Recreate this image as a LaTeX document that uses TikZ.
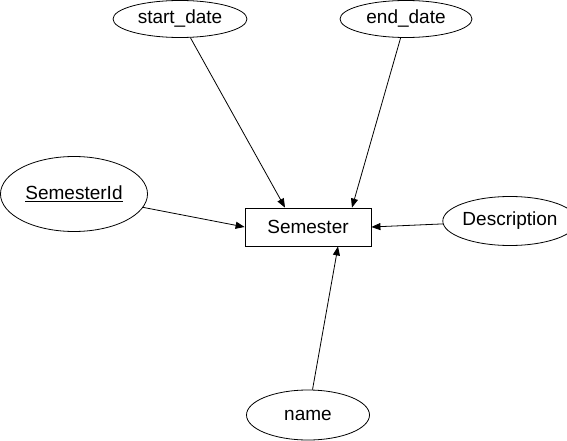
\documentclass[tikz,border=0pt]{standalone}
\usepackage{fontspec}
\setmainfont{Liberation Sans}
\usetikzlibrary{shapes,arrows.meta,positioning,calc,shapes.geometric}

\begin{document}
\begin{tikzpicture}[x=1pt,y=-1pt,line width=0.8pt]
\tikzstyle{entity} = [rectangle, draw, minimum width=126pt, minimum height=38pt, inner sep=0pt, font=\fontsize{19}{22}\selectfont]
\tikzstyle{attr} = [ellipse, draw, inner sep=0pt, font=\fontsize{19}{22}\selectfont]
\tikzstyle{link} = [draw, -{Triangle[length=9pt,width=7pt]}]

\useasboundingbox (0,0) rectangle (567,441);

% Entity in the middle
\node [entity] (semester) at (308,227) {Semester};

% Attributes around it
\node [attr, minimum width=134pt, minimum height=37pt] (startDate) at (180,19) {start\_date};
\node [attr, minimum width=132pt, minimum height=37pt] (endDate) at (406,19) {end\_date};
\node [attr, minimum width=147pt, minimum height=75pt] (semesterId) at (74,194) {\underline{SemesterId}};
\node [attr, minimum width=113pt, minimum height=49pt] (description) at (510,221) {Description};
\node [attr, minimum width=123pt, minimum height=50pt] (name) at (308,415) {name};

% Connectors
\draw [link] (startDate) -- ([xshift=-23pt]semester.north);
\draw [link] (endDate) -- ([xshift=44pt]semester.north);
\draw [link] (semesterId) -- (semester.west);
\draw [link] (description) -- (semester.east);
\draw [link] (name) -- ([xshift=30pt]semester.south);

\end{tikzpicture}
\end{document}
